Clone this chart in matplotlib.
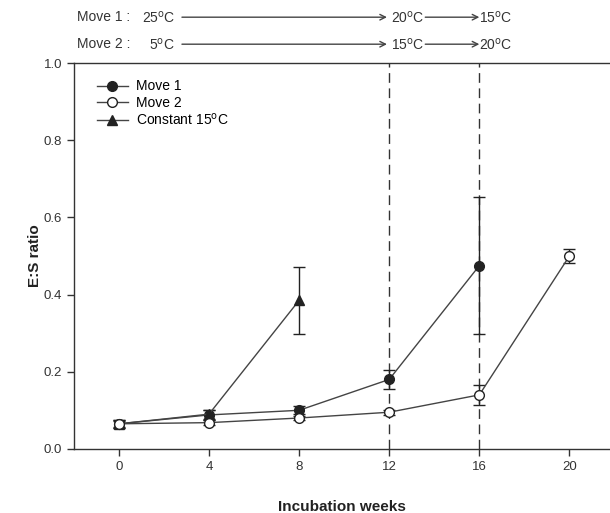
import matplotlib
matplotlib.use("Agg")
import matplotlib.pyplot as plt
from matplotlib.lines import Line2D

plt.rcParams["font.family"] = ["Liberation Sans", "DejaVu Sans"]

weeks_m1 = [0, 4, 8, 12, 16]
ratio_m1 = [0.065, 0.088, 0.100, 0.180, 0.475]
err_m1 = [0.010, 0.012, 0.010, 0.025, 0.178]

weeks_m2 = [0, 4, 8, 12, 16, 20]
ratio_m2 = [0.065, 0.068, 0.080, 0.095, 0.140, 0.500]
err_m2 = [0.008, 0.006, 0.006, 0.006, 0.025, 0.018]

weeks_c = [0, 4, 8]
ratio_c = [0.065, 0.090, 0.385]
err_c = [0.010, 0.012, 0.087]

move_weeks = [12, 16]
xticks = [0, 4, 8, 12, 16, 20]

fig = plt.figure(figsize=(6.1, 5.13), dpi=100)
ax = fig.add_axes([0.121, 0.125, 0.879, 0.752])

col = "#222222"
lc = "#444444"
kw = dict(color=lc, lw=1.0, ecolor=col, elinewidth=1.0, capsize=4, markersize=7,
          markeredgecolor=col, markeredgewidth=1.0)
ax.errorbar(weeks_m1, ratio_m1, yerr=err_m1, marker="o", markerfacecolor=col, zorder=3, **kw)
ax.errorbar(weeks_m2, ratio_m2, yerr=err_m2, marker="o", markerfacecolor="white", zorder=4, **kw)
ax.errorbar(weeks_c, ratio_c, yerr=err_c, marker="^", markerfacecolor=col, zorder=3, **kw)

for w in move_weeks:
    ax.axvline(w, color="#333333", lw=1.0, ls=(0, (7, 4)), zorder=1)

ax.set_xlim(-2, 21.8)
ax.set_ylim(0, 1.0)
ax.set_xticks(xticks)
ax.set_yticks([0, 0.2, 0.4, 0.6, 0.8, 1.0])
ax.set_yticklabels(["0.0", "0.2", "0.4", "0.6", "0.8", "1.0"])
ax.tick_params(direction="out", length=5, width=1, colors="#333333", labelsize=9.5,
               labelcolor="#333333")
ax.spines["right"].set_visible(False)
for s in ["left", "bottom", "top"]:
    ax.spines[s].set_color("#333333")
    ax.spines[s].set_linewidth(1.0)

ax.set_xlabel("Incubation weeks", fontsize=11, fontweight="bold", labelpad=20, color="#222222")
ax.set_ylabel("E:S ratio", fontsize=11, fontweight="bold", labelpad=1, color="#222222")

handles = [
    Line2D([], [], color=lc, lw=1.0, marker="o", markersize=7, markerfacecolor=col, markeredgecolor=col),
    Line2D([], [], color=lc, lw=1.0, marker="o", markersize=7, markerfacecolor="white", markeredgecolor=col),
    Line2D([], [], color=lc, lw=1.0, marker="^", markersize=7, markerfacecolor=col, markeredgecolor=col),
]
labels = ["Move 1", "Move 2", "Constant 15$^\\mathrm{o}$C"]
ax.legend(handles, labels, loc="upper left", bbox_to_anchor=(0.02, 0.99), frameon=False,
          fontsize=10, handlelength=2.2, labelspacing=0.15, handletextpad=0.6)

# temperature schedule above the plot
deg = "$^\\mathrm{o}$C"
rows = [(1.119, "Move 1 :", "25" + deg, "20" + deg, "15" + deg),
        (1.049, "Move 2 :", "5" + deg, "15" + deg, "20" + deg)]
tr = ax.get_xaxis_transform()
for y, name, t0, t1, t2 in rows:
    ax.text(-1.85, y, name, transform=tr, fontsize=10, va="center", color="#333333")
    ax.text(2.5, y, t0, transform=tr, fontsize=10, va="center", ha="right", color="#333333")
    ax.text(12.1, y, t1, transform=tr, fontsize=10, va="center", ha="left", color="#333333")
    ax.text(16.0, y, t2, transform=tr, fontsize=10, va="center", ha="left", color="#333333")
    ax.annotate("", xy=(11.9, y), xytext=(2.8, y), xycoords=tr, textcoords=tr,
                arrowprops=dict(arrowstyle="->", color="#444444", lw=1.0,
                                shrinkA=0, shrinkB=0))
    ax.annotate("", xy=(16.0, y), xytext=(13.6, y), xycoords=tr, textcoords=tr,
                arrowprops=dict(arrowstyle="->", color="#444444", lw=1.0,
                                shrinkA=0, shrinkB=0))

fig.savefig("out.png", dpi=100)
